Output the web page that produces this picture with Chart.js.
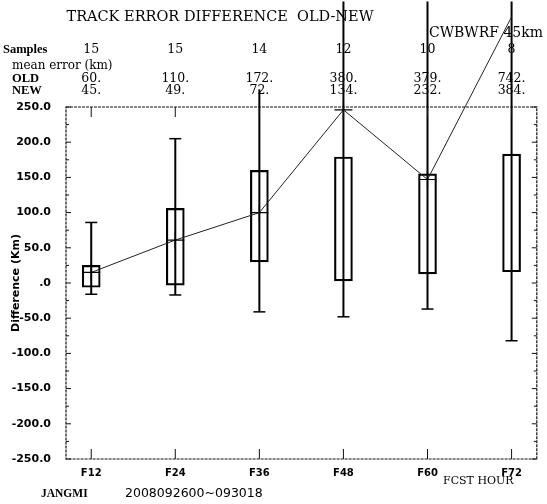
<!DOCTYPE html>
<html>
<head>
<meta charset="utf-8">
<script src="https://cdn.jsdelivr.net/npm/chart.js@4.4.1/dist/chart.umd.min.js"></script>
<style>
  html, body { margin: 0; padding: 0; background: #fff; }
</style>
</head>
<body>
<canvas id="chart" width="547" height="504"></canvas>
<script>
// forecast hours (x positions) and their labels
const hours = [12, 24, 36, 48, 60, 72];
const hourLabels = ['F12', 'F24', 'F36', 'F48', 'F60', 'F72'];

// header table
const samples = [15, 15, 14, 12, 10, 8];
const oldError = [60, 110, 172, 380, 379, 742];
const newError = [45, 49, 72, 134, 232, 384];

// difference OLD-NEW (km)
const meanDiff = [15, 61, 100, 246, 147, 378];
const boxLow = [-6, -3, 30, 3, 13, 16];
const boxHigh = [25, 106, 160, 179, 155, 183];
const whiskerLow = [-16, -17, -41, -48, -37, -82];
const whiskerHigh = [86, 205, 275, 400, 400, 400];

const yMin = -250, yMax = 250, yStep = 25;

const serif = '"DejaVu Serif", serif';
const sans = '"DejaVu Sans", sans-serif';

// dotted frame with inward tick marks
const framePlugin = {
  id: 'frame',
  afterDatasetsDraw(chart) {
    const {ctx, chartArea: a, scales} = chart;
    ctx.save();
    ctx.strokeStyle = '#111';
    ctx.lineWidth = 1.2;
    ctx.setLineDash([3, 1]);
    ctx.strokeRect(a.left, a.top, a.right - a.left, a.bottom - a.top);
    ctx.setLineDash([]);
    ctx.lineWidth = 1;
    scales.y.ticks.forEach(t => {
      const y = scales.y.getPixelForValue(t.value);
      const len = t.value % 50 === 0 ? 5 : 3;
      ctx.beginPath();
      ctx.moveTo(a.left, y); ctx.lineTo(a.left + len, y);
      ctx.moveTo(a.right, y); ctx.lineTo(a.right - len, y);
      ctx.stroke();
    });
    hours.forEach(h => {
      const x = scales.x.getPixelForValue(h);
      ctx.beginPath();
      ctx.moveTo(x, a.bottom); ctx.lineTo(x, a.bottom - 10);
      ctx.moveTo(x, a.top); ctx.lineTo(x, a.top + 10);
      ctx.stroke();
    });
    ctx.restore();
  }
};

// header table and footer text
const textPlugin = {
  id: 'texts',
  afterDraw(chart) {
    const {ctx, scales} = chart;
    const colX = h => scales.x.getPixelForValue(h);
    ctx.save();
    ctx.fillStyle = '#000';
    ctx.textBaseline = 'middle';

    ctx.font = '14.5px ' + serif;
    ctx.textAlign = 'center';
    ctx.fillText('TRACK ERROR DIFFERENCE  OLD-NEW', 220, 17);
    ctx.font = '14px ' + serif;
    ctx.textAlign = 'right';
    ctx.fillText('CWBWRF 45km', 543, 33);

    ctx.textAlign = 'left';
    ctx.font = 'bold 12.5px "Liberation Serif", serif';
    ctx.fillText('Samples', 3, 50);
    ctx.fillText('OLD', 12, 79);
    ctx.fillText('NEW', 12, 91);
    ctx.font = '12px ' + serif;
    ctx.fillText('mean error (km)', 12, 66);

    ctx.textAlign = 'center';
    ctx.font = '12.5px ' + serif;
    hours.forEach((h, i) => {
      ctx.fillText(String(samples[i]), colX(h), 50);
      ctx.fillText(oldError[i] + '.', colX(h), 79);
      ctx.fillText(newError[i] + '.', colX(h), 91);
    });

    ctx.textAlign = 'left';
    ctx.font = '11px ' + serif;
    ctx.fillText('FCST HOUR', 443, 481);
    ctx.font = 'bold 11.5px "Liberation Serif", serif';
    ctx.fillText('JANGMI', 41, 494);
    ctx.font = '12.5px ' + sans;
    ctx.fillText('2008092600~093018', 125, 494);
    ctx.restore();
  }
};

const ctx = document.getElementById('chart').getContext('2d');
new Chart(ctx, {
  type: 'bar',
  data: {
    datasets: [
      {
        type: 'line',
        order: 0,
        data: hours.map((h, i) => ({x: h, y: meanDiff[i]})),
        borderColor: '#222',
        borderWidth: 1,
        pointStyle: 'cross',
        pointRadius: 9,
        pointBorderWidth: 1.2,
        pointBorderColor: '#000',
        tension: 0,
        clip: false
      },
      {
        type: 'scatter',
        order: 1,
        data: hours.flatMap((h, i) => [{x: h, y: whiskerLow[i]}, {x: h, y: whiskerHigh[i]}]),
        pointStyle: 'line',
        pointRadius: 6,
        borderColor: '#000',
        pointBorderWidth: 1.5,
        clip: false
      },
      {
        type: 'bar',
        order: 2,
        data: hours.map((h, i) => ({x: h, y: [boxLow[i], boxHigh[i]]})),
        backgroundColor: 'rgba(0,0,0,0)',
        borderColor: '#000',
        borderWidth: 1.5,
        borderSkipped: false,
        barThickness: 18,
        grouped: false
      },
      {
        type: 'bar',
        order: 3,
        data: hours.map((h, i) => ({x: h, y: [whiskerLow[i], whiskerHigh[i]]})),
        backgroundColor: '#000',
        borderWidth: 0,
        barThickness: 2,
        inflateAmount: 0,
        grouped: false,
        clip: false
      }
    ]
  },
  options: {
    responsive: false,
    animation: false,
    layout: {padding: {top: 107, left: 0, right: 4, bottom: 0}},
    plugins: {legend: {display: false}, tooltip: {enabled: false}},
    scales: {
      x: {
        type: 'linear',
        min: 8.4,
        max: 75.6,
        offset: false,
        afterBuildTicks: scale => { scale.ticks = hours.map(v => ({value: v})); },
        afterFit: scale => { scale.height = 45; },
        grid: {display: false},
        border: {display: false},
        ticks: {
          autoSkip: false,
          maxRotation: 0,
          padding: 0,
          color: '#000',
          font: {family: sans, size: 10, weight: 'bold'},
          callback: v => hourLabels[hours.indexOf(v)]
        }
      },
      y: {
        min: yMin,
        max: yMax,
        afterFit: scale => { scale.width = 66; },
        grid: {display: false},
        border: {display: false},
        title: {
          display: true,
          text: 'Difference (Km)',
          color: '#000',
          font: {family: sans, size: 11, weight: 'bold'},
          padding: {top: 10, bottom: 0}
        },
        ticks: {
          stepSize: yStep,
          padding: 7,
          color: '#000',
          font: {family: sans, size: 11, weight: 'bold'},
          callback: v => v % 50 !== 0 ? '' : (v === 0 ? '.0' : v.toFixed(1))
        }
      }
    }
  },
  plugins: [framePlugin, textPlugin]
});
</script>
</body>
</html>
